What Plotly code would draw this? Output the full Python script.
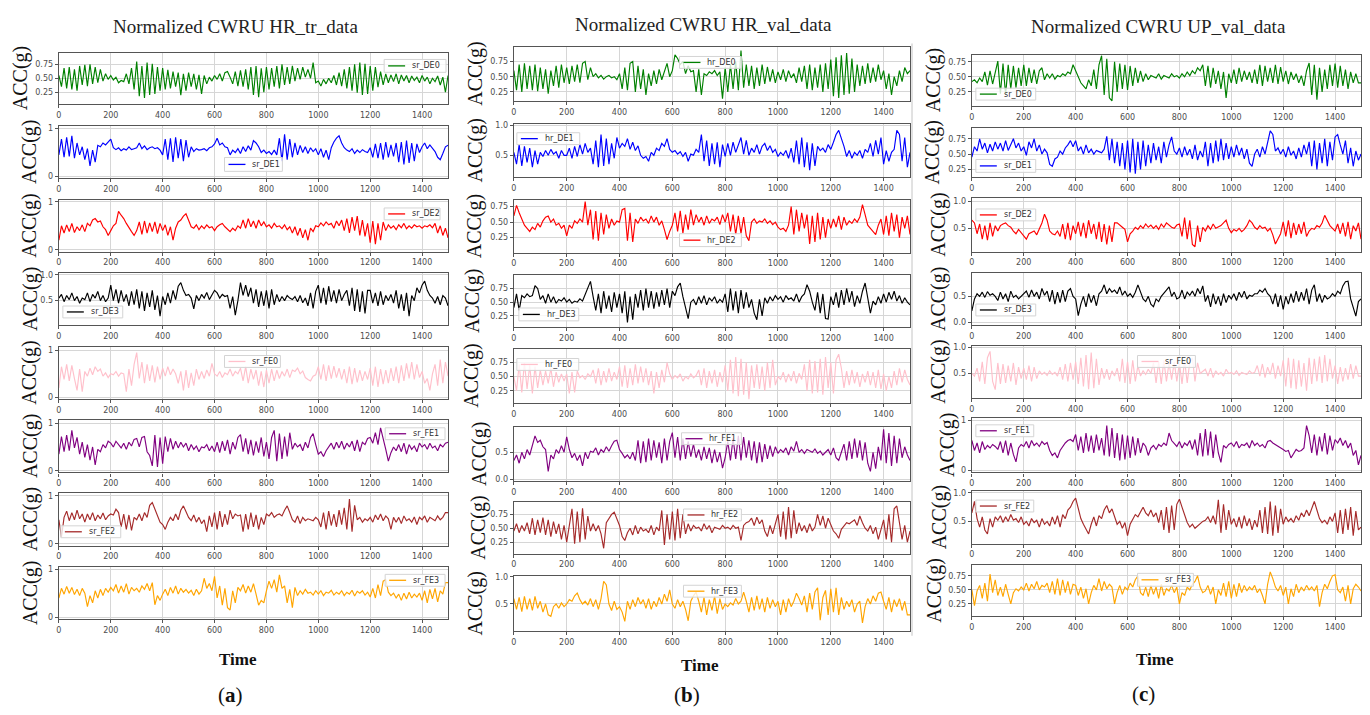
import numpy as np
import plotly.graph_objects as go

W, H = 1370, 715
TIME = list(range(0, 1501, 10))

# ---------------- Normalized CWRU HR_tr_data (hundredths of g) ----------------
tr_sr_DE0 = [55,35,68,32,70,30,66,28,72,38, 74,36,75,40,70,42,66,45,58,48, 55,47,52,42,46,44,58,40,68,30,
             80,18,72,15,78,20,76,22,70,28, 68,30,65,32,62,35,60,20,58,28, 60,35,58,30,56,22,55,40,52,45,
             55,48,58,45,60,62,52,40,62,36, 64,35,66,30,70,20,72,16,68,25, 70,30,68,35,72,32,75,38,70,40,
             72,45,68,48,70,52,66,50,78,42, 45,36,48,40,50,42,55,38,60,36, 66,32,70,28,75,24,78,20,76,22,
             72,28,70,34,62,38,58,42,56,44, 58,40,56,45,55,42,54,46,52,42, 55,45,52,40,50,44,54,38,52,25, 55]
tr_sr_DE1 = [45,78,40,82,42,85,38,70,45,62, 35,58,22,55,30,65,62,70,66,72, 78,60,56,60,54,58,55,62,56,58,
             60,70,58,64,56,60,62,58,60,55, 45,78,35,80,30,82,38,78,32,76, 40,62,52,58,55,56,58,54,60,62,
             68,80,66,70,62,60,45,55,50,58, 48,62,52,64,55,75,70,62,50,55, 48,52,46,55,45,80,32,88,35,78,
             40,70,45,65,50,62,48,60,52,58, 45,58,40,55,35,60,72,80,85,70, 60,55,52,58,48,55,50,56,52,50,
             60,40,68,38,70,35,72,40,66,42, 70,30,72,25,75,28,70,32,68,50, 62,70,58,66,60,52,40,35,48,62, 65]
tr_sr_DE2 = [20,50,35,52,38,55,36,48,40,52, 38,55,50,62,65,58,60,48,42,30, 40,50,55,80,72,65,55,45,38,30,
             40,58,32,60,35,56,38,58,34,55, 40,52,30,48,20,45,58,62,70,75, 60,48,45,52,42,50,44,52,46,48,
             40,48,52,55,48,42,38,45,40,50, 45,62,45,65,48,60,45,62,50,58, 48,52,45,55,48,50,44,52,42,48,
             35,48,30,45,25,42,20,45,38,50, 48,56,50,58,52,55,45,60,50,62, 40,65,35,68,40,70,30,62,28,55,
             15,60,12,55,20,58,40,52,45,50, 42,52,46,55,44,50,45,52,48,50, 45,50,48,52,46,55,35,50,30,45, 25]
tr_sr_DE3 = [55,62,48,60,52,65,50,58,45,55, 52,65,48,62,55,68,50,60,48,55, 80,50,72,45,70,48,62,40,68,42,
             72,35,68,30,65,38,70,32,60,20, 58,42,65,45,70,52,78,85,70,60, 62,55,34,60,50,62,55,66,52,60,
             70,65,55,62,58,60,35,58,22,50, 85,60,80,58,75,45,72,38,68,40, 70,35,72,42,62,48,58,50,60,55,
             52,58,48,60,46,55,40,65,35,68, 80,45,75,42,78,48,70,45,72,50, 62,70,40,75,30,72,28,68,25,70,
             70,45,65,40,68,42,60,50,62,45, 70,35,62,30,65,20,60,50,75,65, 80,88,70,60,55,45,58,42,60,55, 40]
tr_sr_FE0 = [20,65,38,70,35,68,40,15,60,12, 55,45,62,48,65,55,60,45,52,42, 50,48,55,45,52,50,12,60,25,70,
             95,40,75,30,70,35,68,32,65,38, 62,45,65,48,60,50,30,55,15,58, 20,52,25,60,38,55,40,58,45,72,
             50,45,55,42,52,48,60,45,55,50, 62,35,65,30,60,38,58,25,55,22, 58,30,60,35,58,40,55,45,60,42,
             58,55,62,50,56,42,38,35,45,48, 65,38,70,35,68,40,66,42,62,38, 60,30,65,28,62,32,58,35,55,38,
             62,25,65,22,60,28,58,30,62,35, 65,30,68,35,72,40,75,38,70,42, 55,30,40,15,50,70,25,80,30,75, 45]
tr_sr_FE1 = [35,72,40,75,42,85,48,70,35,60, 28,55,22,50,12,45,40,55,48,62, 58,50,62,55,48,58,45,60,52,66,
             68,50,70,72,40,32,10,75,8,70, 15,72,40,68,45,62,48,60,50,58, 42,55,45,52,40,50,48,55,42,52,
             40,60,38,62,42,65,35,60,45,70, 76,40,68,35,65,32,62,38,70,30, 60,25,70,85,20,78,25,72,30,80,
             45,58,50,55,42,60,48,70,78,55, 35,40,30,42,50,58,45,60,48,62, 45,58,50,62,42,65,40,60,55,68,
             70,58,80,55,90,70,45,20,38,50, 42,55,40,58,35,55,45,52,40,58, 50,55,45,58,48,52,42,55,50,58, 60]
tr_sr_FE2 = [50,14,55,68,48,65,50,70,52,62, 45,62,50,65,48,60,52,64,50,58, 62,60,72,65,35,62,30,60,28,55,
             50,62,48,65,55,80,86,72,55,45, 40,30,45,55,48,62,50,70,79,65, 55,48,60,45,55,42,50,25,58,35,
             65,30,68,35,62,40,70,52,62,58, 60,25,62,30,65,35,60,30,55,40, 62,58,65,55,60,62,58,70,79,65,
             50,45,58,42,55,48,52,50,48,55, 50,35,65,30,68,38,62,35,70,40, 75,30,93,25,80,50,55,45,52,48,
             55,45,60,50,62,48,58,52,30,55, 45,55,42,58,48,52,45,56,40,55, 50,58,45,55,52,48,58,50,55,65, 65]
tr_sr_FE3 = [40,60,48,64,50,62,47,58,45,60, 50,22,45,30,55,40,58,45,60,52, 62,55,68,50,65,52,70,48,62,55,
             60,52,65,58,70,55,72,26,45,35, 48,58,45,62,50,65,48,60,52,58, 50,56,45,58,48,55,81,60,70,55,
             85,40,65,25,60,20,15,55,30,62, 55,68,50,65,52,70,48,25,35,30, 55,75,60,78,52,88,60,65,30,58,
             20,62,45,55,48,58,50,52,46,55, 48,55,45,52,50,56,46,52,48,55, 45,52,48,56,44,54,50,55,46,52,
             42,60,40,68,45,75,78,52,45,50, 40,48,35,50,38,52,40,48,42,50, 35,55,30,58,38,60,32,55,48,72, 72]

# ---------------- Normalized CWRU HR_val_data ----------------
hv_hr_DE0 = [60,28,70,25,72,30,68,28,70,26, 65,30,62,22,60,35,68,32,70,40, 65,38,68,42,70,40,72,75,45,65,
             50,55,48,52,46,50,52,48,50,45, 55,30,65,28,72,75,25,68,30,62, 20,55,35,60,38,62,45,58,72,50,
             60,86,80,70,75,55,68,58,60,25, 62,20,55,52,58,55,60,52,58,14, 65,25,70,30,75,28,93,32,70,35,
             68,30,65,35,70,38,66,42,62,40, 58,45,62,42,60,48,55,40,65,42, 68,30,70,28,65,32,70,25,72,30,
             78,18,82,15,85,20,89,22,80,25, 70,35,68,38,72,40,65,42,70,45, 60,30,55,20,50,35,60,42,65,55, 60]
hv_hr_DE1 = [55,35,68,32,65,38,62,30,58,35, 55,48,58,50,60,52,56,45,58,50, 50,62,45,65,48,68,52,70,55,62,
             35,75,30,85,32,78,35,70,45,80, 62,70,65,78,60,72,58,66,50,45, 48,40,55,50,62,58,70,65,78,60,
             55,58,52,56,48,55,40,52,50,60, 55,85,40,75,32,70,35,72,30,68, 48,70,50,72,55,68,80,52,75,50,
             62,55,68,52,65,70,58,66,55,60, 48,55,50,58,45,62,38,75,35,80, 30,72,25,70,32,65,58,62,55,68,
             60,72,85,92,80,65,48,58,45,55, 50,58,45,60,55,70,48,75,52,80, 35,58,40,55,60,92,85,40,80,30, 55]
hv_hr_DE2 = [60,77,65,55,45,40,35,42,38,48, 42,52,58,60,50,55,45,48,40,45, 28,45,40,52,48,55,50,83,45,70,
             22,68,20,65,30,62,40,55,45,52, 50,70,72,20,65,18,55,48,58,52, 55,48,60,50,58,45,52,38,22,35,
             45,65,35,68,32,62,38,70,45,62, 50,58,45,60,48,55,52,58,46,62, 50,65,35,62,30,60,32,58,28,20,
             50,55,48,52,50,55,48,52,46,50, 42,38,40,35,45,75,30,70,35,65, 40,62,15,60,18,65,22,58,25,55,
             40,55,42,60,38,58,45,52,48,55, 50,58,78,62,45,40,35,30,45,55, 30,60,28,65,35,62,25,58,40,60, 30]
hv_hr_DE3 = [40,65,35,62,58,65,60,62,80,75, 55,62,48,65,50,60,48,55,52,58, 50,55,48,52,50,56,52,65,75,88,
             60,35,65,30,70,38,62,32,68,40, 65,30,70,13,60,18,65,40,72,35, 75,40,70,38,68,42,72,45,75,40,
             70,62,78,85,60,40,20,50,55,45, 60,48,62,45,58,52,60,48,55,50, 65,32,75,35,70,30,72,38,68,40,
             55,30,18,55,25,58,48,60,52,62, 55,60,50,62,55,58,52,65,50,60, 65,82,70,50,35,68,30,65,20,19,
             60,45,68,40,72,45,75,50,70,42, 62,48,70,85,60,30,52,45,60,48, 65,50,68,55,70,52,62,48,58,50, 45]
hv_hr_FE0 = [50,25,72,22,75,28,70,20,68,30, 62,35,60,38,65,32,58,40,55,42, 55,20,58,22,60,48,52,45,55,50,
             62,38,65,35,60,40,65,42,58,45, 68,32,70,30,65,35,72,38,68,40, 65,35,60,20,58,30,62,40,75,55,
             45,52,48,55,42,50,46,55,48,52, 62,35,65,30,60,38,62,32,58,40, 70,25,80,20,85,15,82,18,75,10,
             70,30,72,28,68,25,75,30,80,35, 50,45,58,40,55,42,60,38,56,45, 72,25,80,20,78,22,82,18,85,30,
             75,20,80,90,65,30,60,35,62,38, 58,32,55,40,60,35,58,30,62,28, 55,25,50,30,60,35,65,40,62,45, 35]
hv_hr_FE1 = [35,45,30,50,38,55,45,62,80,68, 72,60,55,15,45,38,55,48,62,50, 78,55,40,48,35,45,25,50,38,52,
             50,58,45,55,50,60,52,62,70,72, 55,48,40,45,38,50,35,72,30,70, 32,75,35,72,40,68,30,75,35,70,
             86,40,78,35,75,38,70,42,65,40, 55,35,60,38,58,30,55,32,50,21, 40,70,35,75,38,80,35,78,40,72,
             35,70,30,68,32,65,38,62,42,60, 48,55,50,58,45,60,52,70,50,55, 48,55,52,50,56,48,52,45,50,55,
             45,58,40,35,50,65,35,70,38,75, 40,72,35,68,30,15,50,20,60,35, 92,30,85,25,80,30,75,40,60,45, 35]
hv_hr_FE2 = [45,58,42,55,45,60,40,68,38,65, 42,69,38,65,35,62,40,58,30,55, 25,60,85,22,80,25,86,30,72,45,
             58,45,55,40,14,60,68,75,79,65, 55,35,28,42,50,38,55,40,52,45, 48,42,55,38,52,45,82,20,75,30,
             80,28,85,32,75,40,58,45,55,50, 52,45,58,48,55,42,52,50,48,55, 50,52,48,55,50,52,28,55,60,62,
             68,55,70,58,65,45,35,55,40,58, 75,35,80,30,88,32,82,40,60,45, 55,42,58,45,52,75,55,72,50,68,
             55,45,40,32,48,55,60,58,62,65, 55,72,60,50,45,55,40,52,30,50, 65,30,75,25,85,90,60,30,55,25, 45]
hv_hr_FE3 = [60,40,62,36,64,40,60,38,64,42, 55,35,50,30,27,45,50,42,52,45, 50,58,55,65,70,58,50,55,48,60,
             45,58,40,60,92,85,50,38,55,40, 45,35,18,55,40,58,45,62,50,58, 42,60,40,55,45,62,50,68,55,76,
             50,42,58,45,55,40,19,55,65,72, 55,35,62,30,58,38,65,32,60,40, 50,45,52,48,60,50,55,72,55,35,
             62,38,65,40,60,35,62,42,58,45, 55,30,58,35,60,45,55,70,60,48, 65,35,70,40,72,80,20,62,75,30,
             78,35,80,30,62,40,55,45,58,35, 50,55,15,45,60,50,65,55,70,72, 55,40,62,35,58,45,60,38,55,30, 30]

# ---------------- Normalized CWRU UP_val_data ----------------
uv_sr_DE0 = [42,45,40,48,42,58,36,60,38,55, 76,22,72,20,70,30,68,32,65,35, 70,35,65,40,62,38,60,65,45,55,
             48,55,46,52,50,55,52,58,55,70, 60,48,40,35,30,45,35,62,30,70, 85,20,80,15,10,75,25,72,30,70,
             28,68,35,65,40,60,42,55,45,52, 50,48,55,46,52,50,48,55,50,52, 48,55,50,58,52,60,55,65,60,70,
             35,68,32,65,38,60,30,58,15,55, 40,62,38,65,42,60,45,58,40,62, 38,70,35,68,42,65,40,70,38,66,
             42,60,38,58,45,55,40,52,35,60, 73,20,70,12,65,25,62,30,70,35, 72,32,68,35,62,30,58,40,55,40, 40]
uv_sr_DE1 = [45,62,55,75,58,68,52,66,55,70, 58,68,55,72,56,65,75,60,68,55, 62,48,70,60,75,55,65,50,58,52,
             33,30,42,45,55,50,60,65,72,62, 72,55,62,50,65,52,58,50,56,54, 52,58,79,40,75,35,70,30,68,25,
             72,20,75,18,70,25,72,30,65,35, 68,40,62,35,70,45,65,78,55,50, 60,45,62,48,58,42,65,40,55,45,
             70,30,68,35,72,38,75,40,68,42, 62,45,65,48,60,42,58,35,30,50, 58,45,62,50,70,88,82,55,60,50,
             58,45,62,48,55,42,60,45,65,50, 70,30,72,25,68,35,75,30,70,40, 78,82,65,50,72,35,60,30,55,40, 50]
uv_sr_DE2 = [65,60,40,58,30,55,28,60,35,55, 45,55,58,60,55,52,45,40,48,42, 38,30,40,42,45,38,50,60,76,65,
             45,40,38,45,35,58,30,60,28,55, 40,62,35,60,32,65,40,58,30,62, 25,58,20,55,25,60,60,55,52,48,
             25,40,45,52,48,55,50,58,52,56, 50,55,48,58,52,60,55,52,50,56, 58,35,70,30,65,20,16,55,25,52,
             45,55,48,58,50,52,55,60,65,50, 42,48,45,50,44,48,55,65,60,52, 48,55,50,52,45,50,38,21,30,40,
             62,35,65,32,60,38,58,40,62,35, 45,50,48,55,52,60,74,65,55,50, 45,58,40,60,35,62,30,55,45,60, 30]
uv_sr_DE3 = [22,45,55,50,58,48,59,52,55,50, 42,58,45,55,40,60,48,52,45,50, 55,60,48,62,50,58,45,65,52,60,
             40,62,35,58,38,62,40,60,65,50, 45,13,35,50,30,55,38,52,32,55, 60,72,55,65,58,62,55,68,52,60,
             50,55,48,58,72,60,45,40,50,35, 30,45,40,50,55,62,68,50,58,45, 48,62,45,58,52,60,50,65,55,70,
             40,52,30,55,35,50,32,55,38,52, 45,55,42,58,48,60,45,52,50,55, 55,62,58,65,55,50,35,55,30,52,
             25,50,35,55,38,60,40,58,42,65, 35,62,72,40,55,38,52,45,48,55, 50,60,55,70,78,79,45,30,12,40, 45]
uv_sr_FE0 = [50,45,60,35,72,30,80,92,35,19, 70,30,68,32,65,35,70,28,62,40, 60,38,65,35,62,40,55,48,52,46,
             55,48,52,45,62,38,68,35,70,38, 72,30,80,25,85,20,90,22,78,28, 60,40,58,38,55,45,60,35,78,32,
             72,30,75,35,65,45,55,48,58,50, 70,32,72,30,75,35,70,38,72,35, 70,30,75,32,72,80,35,70,50,55,
             58,45,60,42,55,48,52,45,58,50, 52,48,55,46,52,50,48,55,50,52, 65,45,68,42,62,48,70,40,65,45,
             75,25,80,22,78,20,75,25,70,17, 80,30,78,35,82,32,85,35,78,40, 65,30,62,35,60,38,68,40,65,45, 45]
uv_sr_FE1 = [60,40,55,35,58,42,50,45,52,48, 42,58,35,60,30,55,32,17,45,52, 48,58,45,60,50,55,48,58,52,56,
             40,30,35,25,40,48,55,60,62,58, 72,40,68,35,75,38,70,35,72,40, 65,30,90,28,85,25,75,20,72,22,
             70,25,68,30,65,35,55,48,30,45, 50,42,52,48,55,50,75,60,55,48, 58,45,55,50,60,42,62,30,75,28,
             83,30,78,25,72,35,16,50,45,52, 55,48,58,45,52,50,55,45,60,50, 55,48,52,45,58,60,55,52,48,45,
             42,38,40,25,35,42,38,40,45,90, 70,35,72,30,68,38,75,32,70,40, 62,55,65,50,60,45,55,30,40,11, 30]
uv_sr_FE2 = [65,85,55,40,58,35,28,55,40,58, 52,60,48,58,50,62,52,55,48,58, 45,50,42,55,48,52,40,55,45,50,
             42,58,45,60,40,62,55,70,75,85, 91,70,55,45,35,28,45,58,42,60, 55,70,78,65,72,60,45,50,38,48,
             25,45,55,62,58,68,75,65,60,70, 58,65,48,70,35,75,30,78,35,80, 89,75,60,48,40,45,38,42,45,50,
             52,58,48,60,45,88,30,80,35,70, 45,55,40,58,38,60,42,55,35,52, 40,70,30,75,28,85,25,78,30,72,
             45,58,50,55,48,60,52,65,58,70, 60,72,85,70,55,48,52,45,58,50, 65,30,70,28,72,35,75,25,68,35, 40]
uv_sr_FE3 = [50,22,48,58,35,62,30,78,45,68, 40,55,38,60,42,25,45,52,48,55, 50,62,48,60,52,65,50,58,55,62,
             45,65,42,70,40,68,45,65,42,60, 58,40,55,35,52,25,45,58,50,70, 48,65,52,60,55,25,45,58,42,55,
             50,62,55,68,75,45,40,55,38,58, 42,55,35,60,40,52,48,58,45,55, 25,45,40,55,50,60,65,75,55,45,
             48,58,42,55,25,50,40,62,38,65, 35,60,38,62,45,58,48,55,50,58, 45,52,40,25,60,82,70,55,48,58,
             40,55,25,52,38,60,45,55,48,58, 50,55,48,58,20,45,60,52,65,75, 77,50,45,55,30,58,25,52,60,55, 48]

TITLES = ["Normalized CWRU HR_tr_data", "Normalized CWRU HR_val_data", "Normalized CWRU UP_val_data"]
PANEL_TAGS = ["a", "b", "c"]
LEGEND_NAMES = [
    ["sr_DE0", "sr_DE1", "sr_DE2", "sr_DE3", "sr_FE0", "sr_FE1", "sr_FE2", "sr_FE3"],
    ["hr_DE0", "hr_DE1", "hr_DE2", "hr_DE3", "hr_FE0", "hr_FE1", "hr_FE2", "hr_FE3"],
    ["sr_DE0", "sr_DE1", "sr_DE2", "sr_DE3", "sr_FE0", "sr_FE1", "sr_FE2", "sr_FE3"],
]
SERIES = [
    [tr_sr_DE0, tr_sr_DE1, tr_sr_DE2, tr_sr_DE3, tr_sr_FE0, tr_sr_FE1, tr_sr_FE2, tr_sr_FE3],
    [hv_hr_DE0, hv_hr_DE1, hv_hr_DE2, hv_hr_DE3, hv_hr_FE0, hv_hr_FE1, hv_hr_FE2, hv_hr_FE3],
    [uv_sr_DE0, uv_sr_DE1, uv_sr_DE2, uv_sr_DE3, uv_sr_FE0, uv_sr_FE1, uv_sr_FE2, uv_sr_FE3],
]
X_TICKS = [0, 200, 400, 600, 800, 1000, 1200, 1400]

for col in SERIES:
    for s in col:
        if len(s) != len(TIME):
            raise ValueError(f"series length {len(s)} != {len(TIME)}")

# ---------------- styling / geometry (pixels) ----------------
COLORS = ["green", "blue", "red", "black", "pink", "purple", "brown", "orange"]
COL_X = [(56, 446), (512, 909), (971, 1361)]
ROW_Y = [
    [(49, 101), (123, 176), (198, 250), (272, 324), (346, 399), (420, 473), (494, 547), (569, 621)],
    [(43, 98), (121, 175), (198, 251), (274, 326), (348, 403), (427, 482), (503, 555), (578, 633)],
    [(51, 103), (125, 175), (196, 250), (272, 324), (345, 398), (418, 473), (492, 545), (567, 618)],
]
Y_RANGES = [
    [(0.04, 0.96), (-0.04, 1.06), (-0.035, 1.035), (0.03, 1.03), (-0.035, 1.075), (-0.035, 1.07), (-0.04, 1.055), (-0.035, 1.035)],
    [(0.10, 0.995), (0.13, 1.03), (0.01, 0.855), (0.05, 0.99), (0.03, 1.0), (-0.03, 0.965), (0.045, 0.97), (0.005, 1.01)],
    [(0.015, 0.87), (0.12, 0.93), (0.07, 1.06), (-0.045, 0.94), (0.03, 1.03), (-0.04, 1.054), (0.11, 1.03), (0.035, 0.935)],
]
TICKSETS = {
    "q": ([0.25, 0.5, 0.75], ["0.25", "0.50", "0.75"]),
    "u": ([0, 1], ["0", "1"]),
    "h": ([0.5, 1.0], ["0.5", "1.0"]),
    "z": ([0.0, 0.5], ["0.0", "0.5"]),
}
Y_TICK_KIND = [
    ["q", "u", "u", "h", "u", "u", "u", "u"],
    ["q", "h", "q", "q", "q", "z", "q", "h"],
    ["q", "q", "h", "z", "h", "u", "h", "q"],
]
LEGEND_BOX = [
    [(382, 56, 444, 69), (222, 155, 280, 169), (382, 206, 438, 218), (60, 305, 120, 317),
     (222, 355, 278, 367), (383, 428, 443, 440), (58, 527, 118, 539), (383, 576, 443, 588)],
    [(678, 53, 740, 65), (515, 130, 578, 142), (678, 232, 740, 245), (517, 307, 577, 320),
     (515, 358, 577, 370), (680, 433, 740, 445), (682, 510, 740, 522), (682, 587, 740, 599)],
    [(975, 85, 1035, 97), (975, 157, 1035, 170), (975, 207, 1035, 219), (975, 303, 1035, 315),
     (1137, 355, 1195, 367), (975, 425, 1033, 437), (975, 501, 1033, 513), (1137, 575, 1193, 588)],
]
ACC_X = [[17, 26, 27, 27, 27, 27, 27, 27],
         [474, 474, 472, 470, 470, 477, 477, 474],
         [932, 932, 938, 937, 938, 946, 938, 934]]
TITLE_POS = [(233, 23), (702, 21), (1158, 23)]
TIME_POS = [(236, 662), (699, 668), (1155, 662)]
TAG_POS = [(228, 698), (685, 698), (1143, 697)]

SERIF = "Liberation Serif"
SANS = "DejaVu Sans"
FRAME = "#555555"


def px(x):
    return x / W


def py(y):
    return 1 - y / H


fig = go.Figure()
layout = {}
shapes = []
annotations = []

k = 0
for c in range(3):
    x0, x1 = COL_X[c]
    for r in range(8):
        k += 1
        xa = "xaxis" if k == 1 else f"xaxis{k}"
        ya = "yaxis" if k == 1 else f"yaxis{k}"
        xr = "x" if k == 1 else f"x{k}"
        yr = "y" if k == 1 else f"y{k}"
        top, bot = ROW_Y[c][r]
        color = COLORS[r]
        fig.add_trace(go.Scatter(
            x=TIME, y=np.array(SERIES[c][r]) / 100.0, mode="lines",
            line=dict(color=color, width=1.15), xaxis=xr, yaxis=yr,
            name=LEGEND_NAMES[c][r], showlegend=False, hoverinfo="skip"))
        axis_common = dict(
            showline=True, linecolor=FRAME, linewidth=1.4, mirror=True,
            showgrid=True, gridcolor="#d6d6d6", gridwidth=1, zeroline=False,
            ticks="outside", ticklen=3, tickwidth=1, tickcolor=FRAME,
            tickfont=dict(family=SANS, size=8, color="#4d4d4d"),
        )
        layout[xa] = dict(axis_common, domain=[px(x0), px(x1)], range=[0, 1500],
                          anchor=yr, tickvals=X_TICKS, ticktext=[str(t) for t in X_TICKS])
        tv, tt = TICKSETS[Y_TICK_KIND[c][r]]
        layout[ya] = dict(axis_common, domain=[py(bot), py(top)], range=list(Y_RANGES[c][r]),
                          anchor=xr, tickvals=tv, ticktext=tt)

        # legend box
        lx0, ly0, lx1, ly1 = LEGEND_BOX[c][r]
        ym = (ly0 + ly1) / 2
        shapes.append(dict(type="rect", xref="paper", yref="paper",
                           x0=px(lx0), x1=px(lx1), y0=py(ly1), y1=py(ly0),
                           fillcolor="rgba(255,255,255,0.8)",
                           line=dict(color="#d4d4d4", width=1), layer="above"))
        shapes.append(dict(type="line", xref="paper", yref="paper",
                           x0=px(lx0 + 4), x1=px(lx0 + 21), y0=py(ym), y1=py(ym),
                           line=dict(color=color, width=1.3), layer="above"))
        annotations.append(dict(x=px(lx0 + 26), y=py(ym), xref="paper", yref="paper",
                                text=LEGEND_NAMES[c][r], showarrow=False,
                                xanchor="left", yanchor="middle",
                                font=dict(family=SANS, size=8, color="#333333")))
        # y-axis label
        annotations.append(dict(x=px(ACC_X[c][r]), y=py((top + bot) / 2), xref="paper", yref="paper",
                                text="ACC(g)", textangle=-90, showarrow=False,
                                xanchor="center", yanchor="middle",
                                font=dict(family=SERIF, size=20, color="#111111")))

    tx, ty = TITLE_POS[c]
    annotations.append(dict(x=px(tx), y=py(ty), xref="paper", yref="paper", text=TITLES[c],
                            showarrow=False, xanchor="center", yanchor="middle",
                            font=dict(family=SERIF, size=19, color="#222222")))
    tx, ty = TIME_POS[c]
    annotations.append(dict(x=px(tx), y=py(ty), xref="paper", yref="paper", text="<b>Time</b>",
                            showarrow=False, xanchor="center", yanchor="middle",
                            font=dict(family=SERIF, size=17, color="#111111")))
    tx, ty = TAG_POS[c]
    annotations.append(dict(x=px(tx), y=py(ty), xref="paper", yref="paper",
                            text=f"(<b>{PANEL_TAGS[c]}</b>)",
                            showarrow=False, xanchor="center", yanchor="middle",
                            font=dict(family=SERIF, size=21, color="#111111")))

# thin separator left of the third column
shapes.append(dict(type="line", xref="paper", yref="paper",
                   x0=px(911), x1=px(911), y0=py(40), y1=py(638),
                   line=dict(color="#d8d8d8", width=1.5), layer="below"))

fig.update_layout(
    width=W, height=H, margin=dict(l=0, r=0, t=0, b=0),
    paper_bgcolor="white", plot_bgcolor="white", showlegend=False,
    font=dict(family=SANS), shapes=shapes, annotations=annotations, **layout)

fig.write_html("out.html")
